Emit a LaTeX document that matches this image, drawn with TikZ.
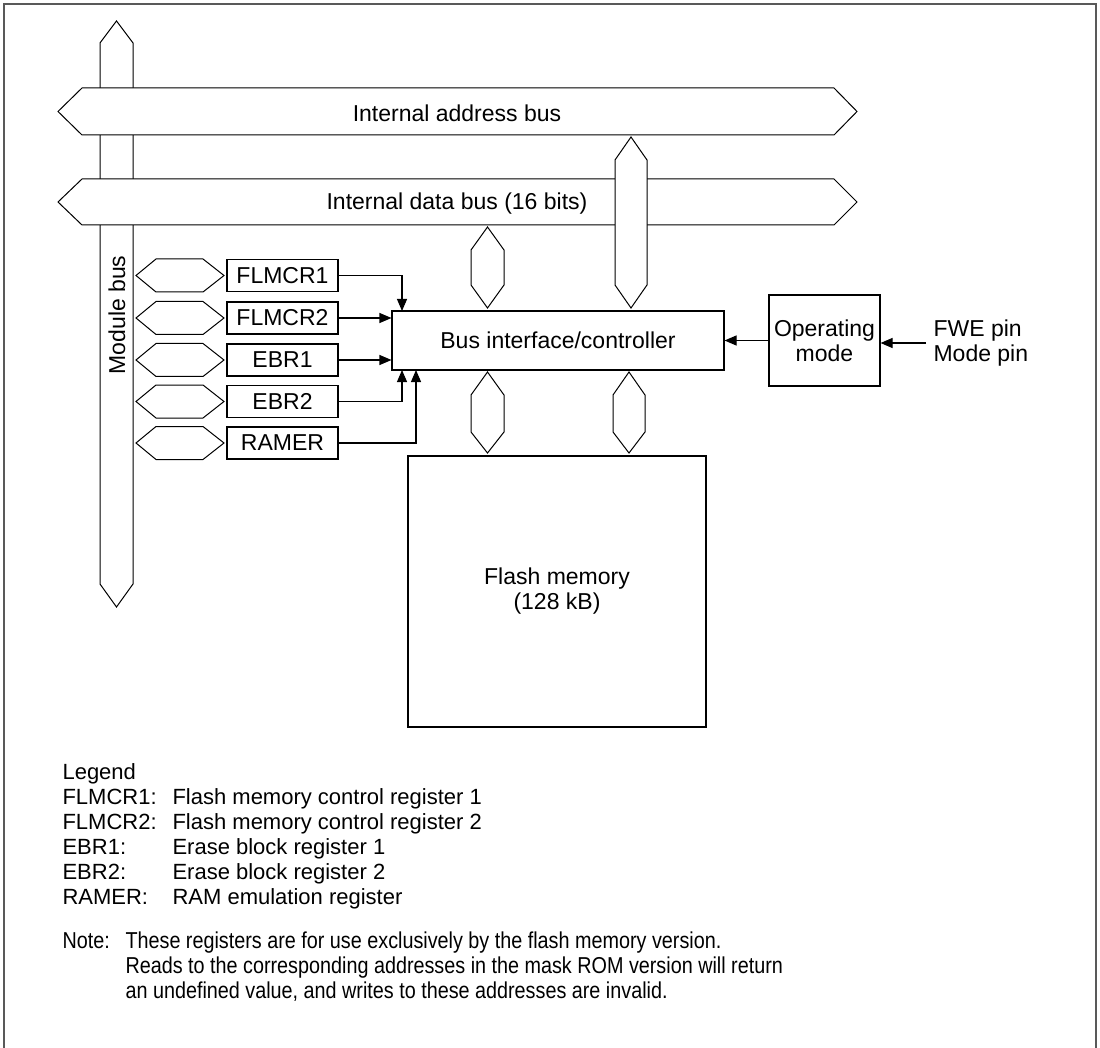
\documentclass[tikz,border=0pt]{standalone}
\usepackage{fontspec}
\setmainfont{Liberation Sans}
\newfontfamily\narrowfont[FakeStretch=0.86]{Liberation Sans}
\usetikzlibrary{arrows.meta}
\begin{document}
\begin{tikzpicture}[x=1pt,y=-1pt, line width=1.1pt, >={Triangle[length=12pt,width=10pt]},
  every node/.style={font=\fontsize{23}{25}\selectfont},
  blk/.style={draw,fill=white,inner sep=0pt,align=center},
  reg/.style={draw,fill=white,minimum width=111pt,minimum height=32pt,inner sep=0pt},
  bus/.style={draw,fill=white,line width=1pt},
  txt/.style={anchor=base west,inner sep=0pt,font=\fontsize{22}{25}\selectfont}]
\useasboundingbox (0,0) rectangle (1100,1048);
\draw[gray!70!black] (4,1048) -- (4,4) -- (1096,4) -- (1096,1048);
% module bus (behind the internal buses)
\draw[bus] (100,43) -- (116.5,21) -- (133,43) -- (133,584) -- (116.5,607) -- (100,584) -- cycle;
\node[rotate=90] (modbus) at (117,315) {Module bus};
% internal buses
\draw[bus] (82,88) -- (834,88) -- (857,111.5) -- (834,135) -- (82,135) -- (58,111.5) -- cycle;
\node (addrbus) at (457,113) {Internal address bus};
\draw[bus] (82,179) -- (834,179) -- (857,202) -- (834,225) -- (82,225) -- (58,202) -- cycle;
\node (databus) at (457,204) {Internal data bus (16 bits)};
% bus connectors
\draw[bus] (615,160) -- (631,137) -- (647,160) -- (647,285) -- (631,308) -- (615,285) -- cycle;
\draw[bus] (471,250) -- (487.5,227) -- (504,250) -- (504,285) -- (487.5,308) -- (471,285) -- cycle;
\draw[bus] (471,395) -- (487.5,372) -- (504,395) -- (504,432) -- (487.5,453) -- (471,432) -- cycle;
\draw[bus] (613,395) -- (629,372) -- (645,395) -- (645,432) -- (629,453) -- (613,432) -- cycle;
% blocks
\node[blk,minimum width=332pt,minimum height=59pt] (ctrl) at (558,340.5) {Bus interface/controller};
\node[blk,minimum width=111pt,minimum height=91pt] (opmode) at (824.5,340.5) {Operating\\mode};
\node[anchor=west,inner sep=0pt,align=left] (pins) at (933,343) {FWE pin\\Mode pin};
\node[blk,minimum width=298pt,minimum height=271pt] (flash) at (557,591.5) {Flash memory\\(128 kB)};
% registers
\foreach \nm/\yy in {FLMCR1/275.5, FLMCR2/318, EBR1/360, EBR2/401.5, RAMER/443} {
  \draw[bus] (136,\yy) -- (156,\yy-16.5) -- (203,\yy-16.5) -- (224,\yy) -- (203,\yy+16.5) -- (156,\yy+16.5) -- cycle;
  \node[reg] (\nm) at (282.5,\yy) {\nm};
}
\draw[->] (FLMCR1.east) -| (402,311);
\draw[->] (FLMCR2.east) -- (FLMCR2.east -| ctrl.west);
\draw[->] (EBR1.east) -- (EBR1.east -| ctrl.west);
\draw[->] (EBR2.east) -| (402,370);
\draw[->] (RAMER.east) -| (416,370);
\draw[->] (opmode.west) -- (ctrl.east |- opmode.west);
\draw[->] (pins.west) ++(-7,0) coordinate (pinsin) -- (opmode.east |- pinsin);
% legend
\node[txt] (lgd) at (62,779) {Legend};
\foreach \ab/\ds [count=\i] in {FLMCR1:/Flash memory control register 1, FLMCR2:/Flash memory control register 2, EBR1:/Erase block register 1, EBR2:/Erase block register 2, RAMER:/RAM emulation register} {
  \node[txt] (ab\i) at (62,779+25*\i) {\ab};
  \node[txt] (ds\i) at (172,779+25*\i) {\ds};
}
\node[txt,font=\narrowfont\fontsize{23}{25}\selectfont] (note) at (62,948) {Note:};
\foreach \ln [count=\i] in {These registers are for use exclusively by the flash memory version., Reads to the corresponding addresses in the mask ROM version will return, {an undefined value, and writes to these addresses are invalid.}}
  \node[txt,font=\narrowfont\fontsize{23}{25}\selectfont] (note\i) at (125,923+25*\i) {\ln};
\end{tikzpicture}
\end{document}
